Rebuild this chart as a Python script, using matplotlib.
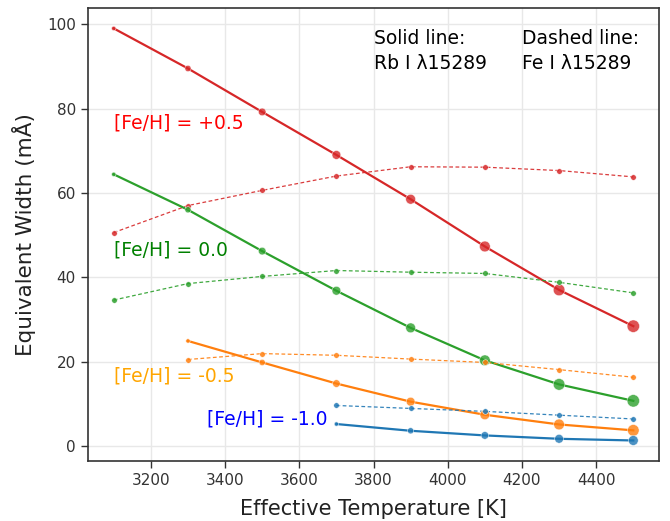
import matplotlib
matplotlib.use('Agg')
import matplotlib.pyplot as plt
import numpy as np

# effective temperatures (K)
teff = [3100, 3300, 3500, 3700, 3900, 4100, 4300, 4500]

# equivalent widths (mA), solid = Rb I, dashed = Fe I
rb_p05 = [99.0, 89.5, 79.2, 69.0, 58.5, 47.3, 37.0, 28.4]
fe_p05 = [50.6, 57.0, 60.6, 64.0, 66.2, 66.1, 65.3, 63.8]
rb_00 = [64.4, 56.0, 46.2, 36.8, 28.0, 20.3, 14.6, 10.7]
fe_00 = [34.6, 38.5, 40.2, 41.6, 41.2, 40.9, 38.8, 36.3]
rb_m05 = [24.9, 19.8, 14.8, 10.5, 7.4, 5.1, 3.7]
fe_m05 = [20.5, 21.9, 21.5, 20.6, 19.8, 18.1, 16.3]
rb_m10 = [5.2, 3.6, 2.5, 1.7, 1.3]
fe_m10 = [9.6, 8.9, 8.2, 7.3, 6.4]

series = [
    # label, teff, rb, fe, line colour, text colour, text pos, ha
    ('[Fe/H] = +0.5', teff, rb_p05, fe_p05, '#d62728', 'red', (3100, 76.5)),
    ('[Fe/H] = 0.0', teff, rb_00, fe_00, '#2ca02c', 'green', (3100, 46.4)),
    ('[Fe/H] = -0.5', teff[1:], rb_m05, fe_m05, '#ff7f0e', 'orange', (3100, 16.5)),
    ('[Fe/H] = -1.0', teff[3:], rb_m10, fe_m10, '#1f77b4', 'blue', (3352, 6.4)),
]

fig = plt.figure(figsize=(6.7, 5.21), dpi=100)
ax = fig.add_axes([0.131, 0.115, 0.853, 0.87])

for label, t, rb, fe, col, tcol, pos in series:
    ax.plot(t, rb, '-', color=col, lw=1.6, zorder=3)
    ax.scatter(t, rb, s=10 * np.arange(1, len(t) + 1), color=col, alpha=0.8,
               edgecolor='white', linewidth=0.4, zorder=4)
    ax.plot(t, fe, '--', color=col, lw=0.9, alpha=0.9, dashes=(3, 2), zorder=3)
    ax.scatter(t, fe, s=16, color=col, alpha=0.85, edgecolor='white',
               linewidth=0.4, zorder=4)
    ax.text(pos[0], pos[1], label, color=tcol, fontsize=13.5, va='center', ha='left')

ax.text(3800, 98.8, 'Solid line:\nRb I \u03bb15289', fontsize=13.5, va='top', ha='left',
        linespacing=1.35)
ax.text(4200, 98.8, 'Dashed line:\nFe I \u03bb15289', fontsize=13.5, va='top', ha='left',
        linespacing=1.35)

ax.set_xlabel('Effective Temperature [K]', fontsize=15, color='#222222', labelpad=8)
ax.set_ylabel('Equivalent Width (m\u00c5)', fontsize=15.5, color='#222222', labelpad=8)
ax.set_xticks([3200, 3400, 3600, 3800, 4000, 4200, 4400])
ax.set_yticks([0, 20, 40, 60, 80, 100])
ax.tick_params(labelsize=11, colors='#333333', length=5, width=1, direction='out')
ax.grid(True, color='#e8e8e8', lw=1)
ax.set_axisbelow(True)
for sp in ax.spines.values():
    sp.set_color('#333333')
    sp.set_linewidth(1.2)

fig.savefig('out.png', dpi=100)
